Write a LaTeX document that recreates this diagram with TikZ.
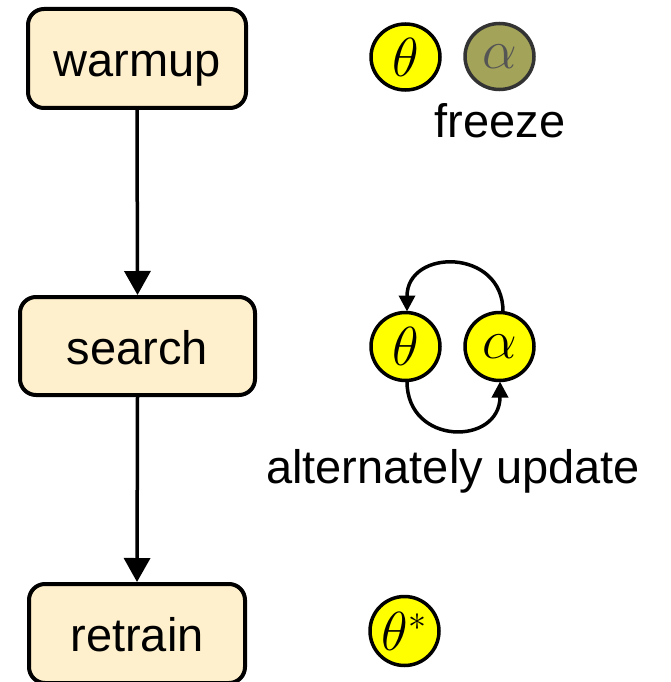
\RequirePackage{fix-cm}
\documentclass[tikz,border=0pt]{standalone}
\usepackage{fontspec}
\setmainfont{Liberation Sans}
\usetikzlibrary{arrows.meta,shapes.geometric}
\DeclareMathSizes{55}{55}{36}{26}
\definecolor{boxfill}{HTML}{FEF0CC}
\definecolor{varyellow}{HTML}{FFFF00}
\definecolor{frozen}{HTML}{A3A35A}
\definecolor{frozenink}{HTML}{555555}
\definecolor{frozenedge}{HTML}{333333}
\begin{document}
\begin{tikzpicture}[x=1pt,y=-1pt,
  stagebox/.style={draw=black,line width=4pt,fill=boxfill,rounded corners=16pt,
    inner sep=0pt,text height=36pt,text depth=0pt,
    font=\fontsize{47}{56}\selectfont},
  param/.style={ellipse,draw=black,line width=3.5pt,fill=varyellow,inner sep=0pt,
    minimum width=69pt,minimum height=66pt,font=\fontsize{55}{66}\selectfont},
  frozenparam/.style={param,draw=frozenedge,fill=frozen,text=frozenink},
  label/.style={anchor=base,inner sep=0pt,font=\fontsize{47}{56}\selectfont},
  flow/.style={line width=3.5pt,-{Triangle[length=24pt,width=26pt]}},
  swap/.style={line width=3.5pt,-{Triangle[length=16pt,width=16pt]}}]
\useasboundingbox (0,0) rectangle (671,682);
\clip (0,0) rectangle (671,682);

% training stages
\node[stagebox,minimum width=218pt,minimum height=99pt] (warmup) at (137,58.5) {warmup};
\node[stagebox,minimum width=235pt,minimum height=98pt] (search) at (137.5,346) {search};
\node[stagebox,minimum width=216pt,minimum height=99pt] (retrain) at (137,633.5) {retrain};

\draw[flow] (warmup.south) -- (search.north);
\draw[flow] (search.south) -- (retrain.north);

% warmup: weights trained, architecture frozen
\node[param] (wtheta) at (405.5,57) {$\theta$};
\node[frozenparam] (walpha) at (499.5,56.5) {$\alpha$};
\node[label] (freeze) at (500,138) {freeze};

% search: alternating updates
\node[param,minimum height=68pt] (stheta) at (405.5,346.5) {$\theta$};
\node[param,minimum height=68pt] (salpha) at (499.5,346.5) {$\alpha$};
\coordinate (atop) at (503,311.5);
\coordinate (ttop) at (407,311.5);
\coordinate (tbot) at (407,381.5);
\coordinate (abot) at (500,381.5);
\draw[swap] (atop) .. controls (503,248) and (407,248) .. (ttop);
\draw[swap] (tbot) .. controls (407,446) and (500,446) .. (abot);
\node[label] (alt) at (453,483) {alternately update};

% retrain: final weights
\node[param,minimum height=69pt] (rtheta) at (404.5,631) {$\theta^{*}$};
\end{tikzpicture}
\end{document}
